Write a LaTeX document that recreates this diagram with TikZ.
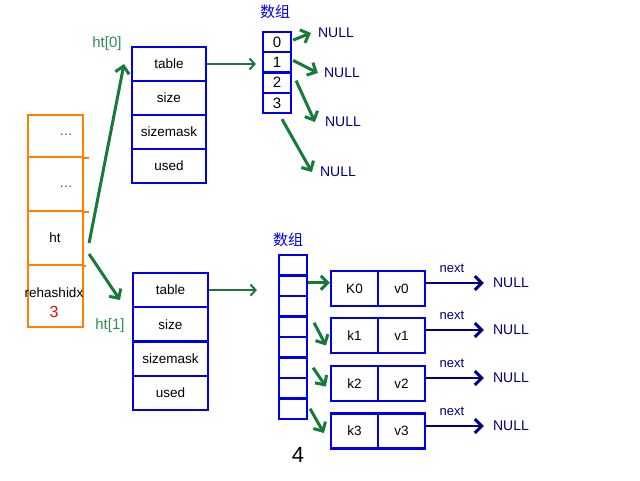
\documentclass[tikz,border=0pt]{standalone}
\usepackage{fontspec}
\setmainfont{Liberation Sans}
\newfontfamily\cjk{Noto Sans CJK SC}
\usetikzlibrary{arrows.meta,calc}

\definecolor{boxblue}{RGB}{0,0,235}
\definecolor{arrowgreen}{RGB}{22,122,58}
\definecolor{labelgreen}{RGB}{46,140,84}
\definecolor{navyblue}{RGB}{0,0,128}
\definecolor{stackorange}{RGB}{255,128,0}

\begin{document}
\begin{tikzpicture}[x=1pt,y=-1pt,
  txt/.style={font=\fontsize{13.5}{16}\selectfont},
  field/.style={draw=boxblue,line width=2.2pt,minimum width=74pt,minimum height=34pt,inner sep=0pt,txt},
  slot/.style={draw=boxblue,line width=2.2pt,minimum width=28pt,minimum height=20.3pt,inner sep=0pt,font=\fontsize{15}{17}\selectfont},
  pair/.style={draw=boxblue,line width=2.2pt,minimum width=47pt,minimum height=35pt,inner sep=0pt,txt},
  stackcell/.style={draw=stackorange,line width=2.2pt,minimum width=55pt,inner sep=0pt},
  nulltxt/.style={text=navyblue,font=\fontsize{14}{16}\selectfont,inner sep=2pt},
  nexttxt/.style={text=navyblue,font=\fontsize{13}{15}\selectfont,inner sep=0pt},
  arrtitle/.style={text=boxblue,font=\cjk\fontsize{15}{17}\selectfont,inner sep=0pt},
  htlabel/.style={text=labelgreen,font=\fontsize{15}{17}\selectfont,inner sep=0pt},
  garrow/.style={draw=arrowgreen,line width=3pt,-{Straight Barb[length=7pt,width=14pt,line width=3pt]}},
  tarrow/.style={draw=arrowgreen,line width=2pt,-{Straight Barb[length=5pt,width=11pt,line width=2pt]}},
  narrow/.style={draw=navyblue,line width=2.6pt,-{Straight Barb[length=7pt,width=14pt,line width=3pt]}},
]
\useasboundingbox (0,0) rectangle (640,480);

% dict structure (orange stack)
\node[stackcell,minimum height=42pt] (s1) at (55.5,136) {};
\node[stackcell,minimum height=54pt] (s2) at (55.5,184) {};
\node[stackcell,minimum height=54pt] (s3) at (55.5,238) {};
\node[stackcell,minimum height=62pt] (s4) at (55.5,296) {};
\draw[stackorange,line width=2.2pt] (s1.south east) -- ++(5,0);
\draw[stackorange,line width=2.2pt] (s2.south east) -- ++(5,0);
\draw[stackorange,line width=2.2pt] (s3.south east) -- ++(2,0);
\node[txt,text=black!70] (d1) at (66,135) {…};
\node[txt,text=black!70] (d2) at (66,187) {…};
\node[txt] (htname) at (55,238) {ht};
\node[txt,inner sep=0pt] (rehash) at (54,293) {rehashidx};
\node[text=red,font=\fontsize{16}{18}\selectfont,inner sep=0pt] (ridx) at (54,312) {3};

% ht[0] table
\node[field] (t0) at (169,64) {table};
\node[field] (z0) at (169,98) {size};
\node[field] (m0) at (169,132) {sizemask};
\node[field] (u0) at (169,166) {used};
\node[htlabel] (l0) at (107,44) {ht[0]};

% ht[1] table
\node[field,minimum width=75pt,minimum height=34.25pt] (t1) at (170.5,290.1) {table};
\node[field,minimum width=75pt,minimum height=34.25pt] (z1) at (170.5,324.4) {size};
\node[field,minimum width=75pt,minimum height=34.25pt] (m1) at (170.5,358.6) {sizemask};
\node[field,minimum width=75pt,minimum height=34.25pt] (u1) at (170.5,392.9) {used};
\node[htlabel] (l1) at (110,326) {ht[1]};

% links from ht to both tables
\coordinate (h0tip) at (124,64);
\coordinate (h1tip) at (120,300);
\draw[garrow] ([shift={(5,5)}]s3.east) -- (h0tip);
\draw[garrow] ([shift={(5,16)}]s3.east) -- (h1tip);

% bucket array of ht[0]
\node[arrtitle] (at0) at (275,12) {数组};
\node[slot] (a0) at (277,42.1) {0};
\node[slot] (a1) at (277,62.4) {1};
\node[slot] (a2) at (277,82.6) {2};
\node[slot] (a3) at (277,102.9) {3};
\draw[tarrow] (t0.east) -- ([xshift=-6pt]t0.east -| a1.west);

\node[nulltxt] (nu0) at (336,33) {NULL};
\node[nulltxt] (nu1) at (342,73) {NULL};
\node[nulltxt] (nu2) at (343,122) {NULL};
\node[nulltxt] (nu3) at (338,172) {NULL};
\draw[garrow] ([shift={(1,-2)}]a0.east) -- ([xshift=-5pt]nu0.west);
\draw[garrow] ([shift={(1,-2)}]a1.east) -- ([xshift=-4pt]nu1.west);
\draw[garrow] ([shift={(4,-2)}]a2.east) -- ([xshift=-8pt]nu2.west);
\draw[garrow] ([shift={(5,5)}]a3.south) -- ([xshift=-6pt]nu3.west);

% bucket array of ht[1]
\node[arrtitle] (at1) at (288,240) {数组};
\foreach \i in {0,...,7} {
  \node[slot,minimum height=20.5pt] (b\i) at (293,265.25+20.5*\i) {};
}
\node[font=\fontsize{22}{24}\selectfont,inner sep=0pt] (cnt) at (298,455) {4};
\draw[tarrow] (t1.east) -- ([xshift=-21pt]t1.east -| b0.west);

% hash entries
\node[pair] (k0) at (354.5,288.5) {K0};
\node[pair] (v0) at (401.5,288.5) {v0};
\node[pair] (k1) at (354.5,335.5) {k1};
\node[pair] (v1) at (401.5,335.5) {v1};
\node[pair] (k2) at (354.5,383.5) {k2};
\node[pair] (v2) at (401.5,383.5) {v2};
\node[pair] (k3) at (354.5,431) {k3};
\node[pair] (v3) at (401.5,431) {v3};

\draw[garrow] ([yshift=3pt]b1.east) -- ([yshift=3pt]b1.east -| k0.west);
\draw[garrow] ([shift={(6,-4)}]b3.east) -- ([shift={(-4,10)}]k1.west);
\draw[garrow] ([shift={(5,0)}]b5.east) -- ([shift={(-4,3)}]k2.west);
\draw[garrow] ([shift={(2,0)}]b7.east) -- ([shift={(-6,2)}]k3.west);

% next pointers
\foreach \i/\y in {0/283,1/330,2/378,3/426} {
  \node[nulltxt] (nn\i) at (511,\y) {NULL};
  \node[nexttxt] (nx\i) at (452,\y-15) {next};
  \draw[narrow] (v\i.east |- nn\i) -- ([xshift=-7pt]nn\i.west);
}
\end{tikzpicture}
\end{document}
